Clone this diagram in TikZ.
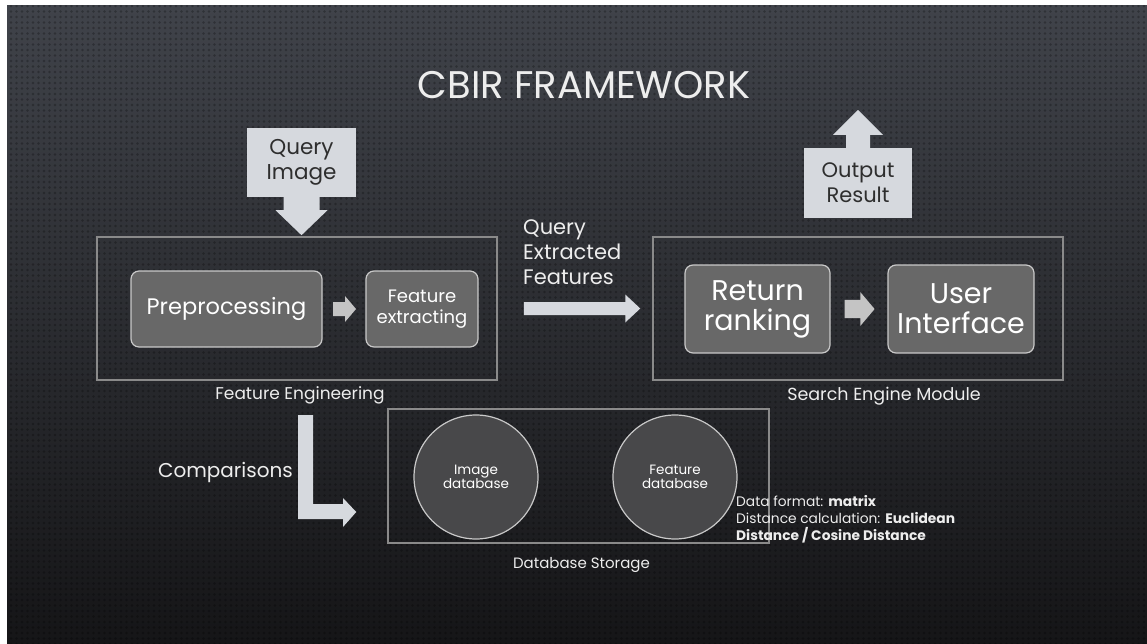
\documentclass[tikz,border=0pt]{standalone}
\usepackage{fontspec}
\setmainfont{Poppins}
\usetikzlibrary{calc,patterns.meta}
\definecolor{bgtop}{HTML}{40434A}
\definecolor{bgbot}{HTML}{151517}
\definecolor{framec}{HTML}{8A8A8A}
\definecolor{boxfill}{HTML}{686868}
\definecolor{boxline}{HTML}{C9C9C9}
\definecolor{callfill}{HTML}{D6D9DE}
\definecolor{calltext}{HTML}{2E2E2E}
\definecolor{smallarr}{HTML}{C4C4C4}
\definecolor{circfill}{HTML}{48484A}
\definecolor{txt}{HTML}{EDEDED}
\newcommand{\fsz}[2]{\fontsize{#1}{#2}\selectfont}
\begin{document}
\begin{tikzpicture}[x=1pt,y=-1pt,
  framebox/.style={draw=framec, line width=1.5pt, inner sep=0pt},
  stepbox/.style={draw=boxline, line width=1.2pt, fill=boxfill, rounded corners=8pt, text=white, align=center, inner sep=0pt},
  callout/.style={fill=callfill, text=calltext, align=center, inner sep=0pt},
  fatarrow/.style={fill=callfill},
  smallarrow/.style={fill=smallarr},
  db/.style={circle, draw=boxline, line width=1.2pt, fill=circfill, text=white, align=center, minimum size=124pt, inner sep=0pt},
  lbl/.style={text=txt, inner sep=0pt},
  sarrow/.pic={\fill[smallarrow] (-11,-7) -- (1,-7) -- (1,-13) -- (12,0) -- (1,13) -- (1,7) -- (-11,7) -- cycle;}
]
\useasboundingbox (0,0) rectangle (1147,644);
\fill[white] (0,0) rectangle (1147,644);
\shade[top color=bgtop, bottom color=bgbot] (7,6) rectangle (1147,644);
\fill[pattern={Dots[distance=5.5pt, radius=1.3pt]}, pattern color=black, opacity=0.25] (7,6) rectangle (1147,644);

% title
\node[lbl, font=\fsz{38.5}{44}] (title) at (584,85) {CBIR FRAMEWORK};

% feature engineering
\node[framebox, minimum width=400pt, minimum height=143pt] (fe) at (297,308.5) {};
\node[lbl, font=\fsz{17}{20}, anchor=north] (felbl) at ($(fe.south)+(3,6)$) {Feature Engineering};
\node[stepbox, minimum width=191pt, minimum height=76pt, font=\fsz{22.5}{27}] (pre) at (226.5,309) {Preprocessing};
\node[stepbox, minimum width=112pt, minimum height=76pt, font=\fsz{18}{21.5}] (fx) at (422,309) {Feature\\extracting};
\coordinate (m1) at ($(pre.east)!0.5!(fx.west)$);
\pic at (m1) {sarrow};

% query image
\node[callout, minimum width=109pt, minimum height=69pt, font=\fsz{21.5}{25}] (qimg) at (301.5,162.5) {Query\\Image};
\fill[fatarrow] ($(qimg.south)+(-18,0)$) -- ++(0,13) -- ++(-8,0) -- ($(qimg.south)+(0,38)$) -- ($(qimg.south)+(26,13)$) -- ++(-8,0) -- ($(qimg.south)+(18,0)$) -- cycle;

% search engine
\node[framebox, minimum width=410pt, minimum height=143pt] (se) at (858,308.5) {};
\node[lbl, font=\fsz{17.5}{20}, anchor=north] (selbl) at ($(se.south)+(26,6)$) {Search Engine Module};
\node[stepbox, minimum width=145pt, minimum height=88pt, font=\fsz{28.5}{30}] (rr) at (757.5,309) {Return\\ranking};
\node[stepbox, minimum width=146pt, minimum height=88pt, font=\fsz{28.5}{30}] (ui) at (961,309) {User\\Interface};
\coordinate (m2) at ($(rr.east)!0.5!(ui.west)$);
\pic[scale=1.3] at (m2) {sarrow};

% output result
\node[callout, minimum width=108pt, minimum height=70pt, font=\fsz{21}{25}] (out) at (858,183) {Output\\Result};
\fill[fatarrow] ($(out.north)+(-12,0)$) -- ++(0,-13) -- ++(-13,0) -- ($(out.north)+(0,-38)$) -- ($(out.north)+(25,-13)$) -- ++(-13,0) -- ($(out.north)+(12,0)$) -- cycle;

% query extracted features
\node[lbl, font=\fsz{21}{25}, align=left, anchor=north west] (qef) at (523,219) {Query\\Extracted\\Features};
\fill[fatarrow] ($(fe.east)+(26,-6.5)$) -- ($(se.west)+(-27,-6.5)$) -- ($(se.west)+(-27,-14)$) -- ($(se.west)+(-12,0)$) -- ($(se.west)+(-27,14)$) -- ($(se.west)+(-27,6.5)$) -- ($(fe.east)+(26,6.5)$) -- cycle;

% database storage
\node[framebox, minimum width=381pt, minimum height=134pt] (dbs) at (578.5,476) {};
\node[lbl, font=\fsz{15}{18}, anchor=north] (dbslbl) at ($(dbs.south)+(3,13)$) {Database Storage};
\node[db, font=\fsz{13.5}{14}] (imgdb) at (476,477) {Image\\database};
\node[db, font=\fsz{13.5}{14}] (featdb) at (675,477) {Feature\\database};
\node[lbl, font=\fsz{13.8}{17.3}, align=left, anchor=north west] (info) at (736,495) {Data format: \textbf{matrix}\\Distance calculation: \textbf{Euclidean}\\\textbf{Distance / Cosine Distance}};

% comparisons
\node[lbl, font=\fsz{20}{24}, anchor=east] (cmp) at (293,472) {Comparisons};
\fill[fatarrow] (298,415) -- (313,415) -- (313,504) -- (343,504) -- (343,498) -- ($(dbs.west)+(-31,36)$) -- (343,527) -- (343,519) -- (298,519) -- cycle;
\end{tikzpicture}
\end{document}
